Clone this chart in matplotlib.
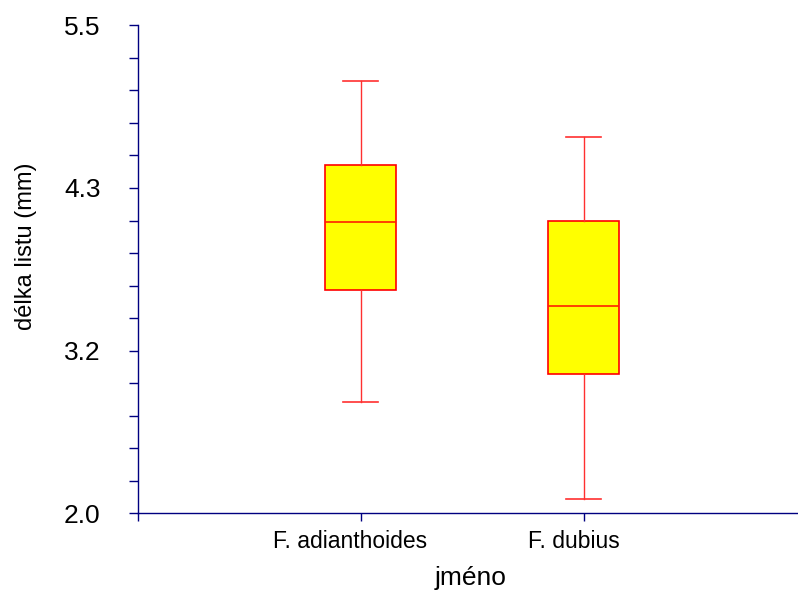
import numpy as np
import matplotlib
matplotlib.use("Agg")
import matplotlib.pyplot as plt
from matplotlib.transforms import ScaledTranslation

# --- dados ---
jmena = ["F. adianthoides", "F. dubius"]
dolni_vous = [2.80, 2.10]
q1 = [3.60, 3.00]
median = [4.09, 3.49]
q3 = [4.50, 4.10]
horni_vous = [5.10, 4.70]

y_ticks = [2.0, 3.1667, 4.3333, 5.5]
y_labels = ["2.0", "3.2", "4.3", "5.5"]

plt.rcParams["font.family"] = ["Liberation Sans", "DejaVu Sans"]

fig = plt.figure(figsize=(7.98, 5.95), dpi=100)
ax = fig.add_axes([137.5 / 798, 81.7 / 595, 660.5 / 798, 488 / 595])

stats = []
for i, nm in enumerate(jmena):
    stats.append({
        "label": nm,
        "whislo": dolni_vous[i],
        "q1": q1[i],
        "med": median[i],
        "q3": q3[i],
        "whishi": horni_vous[i],
        "fliers": [],
    })

ax.bxp(
    stats,
    positions=[1, 2],
    widths=0.32,
    patch_artist=True,
    showfliers=False,
    boxprops=dict(facecolor="#ffff00", edgecolor="#ff0000", linewidth=1.2),
    medianprops=dict(color="#ff2000", linewidth=1.2),
    whiskerprops=dict(color="#ff3030", linewidth=1.0),
    capprops=dict(color="#ff3030", linewidth=1.2),
)

navy = "#000080"
ax.set_xlim(0, 660.5 / 223)
ax.set_ylim(2.0, 5.5)

ax.set_yticks(y_ticks)
ax.set_yticklabels(y_labels)
ax.set_yticks(np.arange(2.0, 5.51, 3.5 / 15), minor=True)
ax.set_xticks([0, 1, 2])
ax.set_xticklabels(["", jmena[0], jmena[1]])

for s in ["top", "right"]:
    ax.spines[s].set_visible(False)
for s in ["left", "bottom"]:
    ax.spines[s].set_color(navy)
    ax.spines[s].set_linewidth(1.0)

ax.tick_params(axis="y", which="both", direction="out", length=6.5,
               color=navy, width=1.0)
ax.tick_params(axis="y", which="major", labelsize=19, pad=20)
ax.tick_params(axis="x", direction="out", length=6, color=navy, width=1.0,
               labelsize=16.5, pad=6)

# popisky kategorií jsou v originálu mírně posunuté doleva
posun = ScaledTranslation(-10 / 100, 0, fig.dpi_scale_trans)
for lab in ax.get_xticklabels():
    lab.set_transform(lab.get_transform() + posun)

fig.text(26 / 798, 1 - 246.5 / 595, "délka listu (mm)", rotation=90,
         ha="center", va="center", fontsize=17)
fig.text(471 / 798, 1 - 578 / 595, "jméno", ha="center", va="center",
         fontsize=19)

fig.savefig("out.png", dpi=100)
